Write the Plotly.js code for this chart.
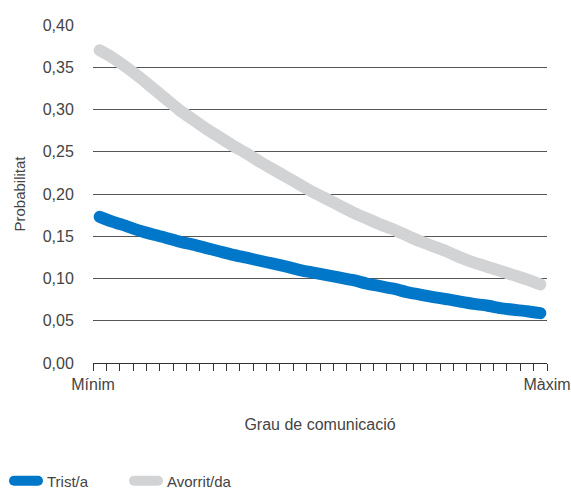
<!DOCTYPE html>
<html>
<head>
<meta charset="utf-8">
<script src="https://cdn.plot.ly/plotly-3.0.1.min.js"></script>
<style>
  html, body { margin: 0; padding: 0; background: #fff; }
  #chart { width: 571px; height: 491px; }
  .js-line { stroke-linecap: round !important; }
  .legend .js-line { stroke-dasharray: 24 100 !important; stroke-dashoffset: -2 !important; }
</style>
</head>
<body>
<div id="chart"></div>
<script>
// Tick positions along the x axis (35 ticks) and their labels
const tickPositions = [0,1,2,3,4,5,6,7,8,9,10,11,12,13,14,15,16,17,18,19,20,21,22,23,24,25,26,27,28,29,30,31,32,33,34];
const tickLabels = ['Mínim','','','','','','','','','','','','','','','','','','','','','','','','','','','','','','','','','','Màxim'];

// Data positions (between ticks)
const xPoints = [0.5,1.5,2.5,3.5,4.5,5.5,6.5,7.5,8.5,9.5,10.5,11.5,12.5,13.5,14.5,15.5,16.5,17.5,18.5,19.5,20.5,21.5,22.5,23.5,24.5,25.5,26.5,27.5,28.5,29.5,30.5,31.5,32.5,33.5];

const seriesNames = ['Trist/a', 'Avorrit/da'];

const tristValues = [0.173,0.167,0.162,0.1565,0.152,0.148,0.1435,0.140,0.136,0.132,0.128,0.1246,0.121,0.1175,0.114,0.110,0.107,0.104,0.101,0.098,0.094,0.091,0.088,0.084,0.081,0.078,0.0755,0.0726,0.070,0.068,0.065,0.063,0.0613,0.059];

const avorritValues = [0.370,0.361,0.350,0.338,0.325,0.312,0.299,0.288,0.277,0.267,0.257,0.248,0.238,0.229,0.220,0.211,0.202,0.194,0.186,0.178,0.171,0.164,0.158,0.151,0.144,0.138,0.132,0.125,0.119,0.114,0.109,0.104,0.099,0.093];

const yTicks = [0,0.05,0.10,0.15,0.20,0.25,0.30,0.35,0.40];

const FONT = '"Liberation Sans", Arial, sans-serif';

const traces = [
  {
    x: xPoints, y: tristValues, name: seriesNames[0],
    type: 'scatter', mode: 'lines',
    line: { color: '#0077c8', width: 12, shape: 'spline', smoothing: 0.6 }
  },
  {
    x: xPoints, y: avorritValues, name: seriesNames[1],
    type: 'scatter', mode: 'lines',
    line: { color: '#d2d3d5', width: 12, shape: 'spline', smoothing: 0.6 }
  }
];

const layout = {
  width: 571, height: 491,
  margin: { l: 93, r: 24, t: 25, b: 128, pad: 0 },
  paper_bgcolor: '#ffffff', plot_bgcolor: '#ffffff',
  separators: ',.',
  font: { family: FONT, size: 15, color: '#444444' },
  showlegend: true,
  legend: {
    orientation: 'h',
    x: 7 / 571, xref: 'container', xanchor: 'left',
    y: 10 / 491, yref: 'container', yanchor: 'middle',
    font: { family: FONT, size: 15, color: '#444444' },
    traceorder: 'normal',
    entrywidth: 75, entrywidthmode: 'pixels',
    bgcolor: 'rgba(0,0,0,0)'
  },
  xaxis: {
    range: [0, 34],
    tickmode: 'array', tickvals: tickPositions, ticktext: tickLabels,
    ticks: 'outside', ticklen: 7, tickwidth: 1, tickcolor: '#333333',
    showline: true, linecolor: '#333333', linewidth: 1,
    showgrid: false, zeroline: false,
    tickfont: { family: FONT, size: 16, color: '#444444' },
    title: { text: 'Grau de comunicació', font: { family: FONT, size: 16, color: '#444444' }, standoff: 26 },
    automargin: false, fixedrange: true
  },
  yaxis: {
    range: [0, 0.40],
    tickmode: 'array', tickvals: yTicks,
    tickformat: '.2f',
    ticks: 'outside', ticklen: 15, tickcolor: 'rgba(0,0,0,0)',
    showline: false, showgrid: true, gridcolor: '#555555', gridwidth: 1,
    zeroline: false,
    tickfont: { family: FONT, size: 16, color: '#444444' },
    title: { text: 'Probabilitat', font: { family: FONT, size: 15, color: '#444444' }, standoff: 13 },
    automargin: false, fixedrange: true
  }
};

Plotly.newPlot('chart', traces, layout, { staticPlot: true, displayModeBar: false });
</script>
</body>
</html>
